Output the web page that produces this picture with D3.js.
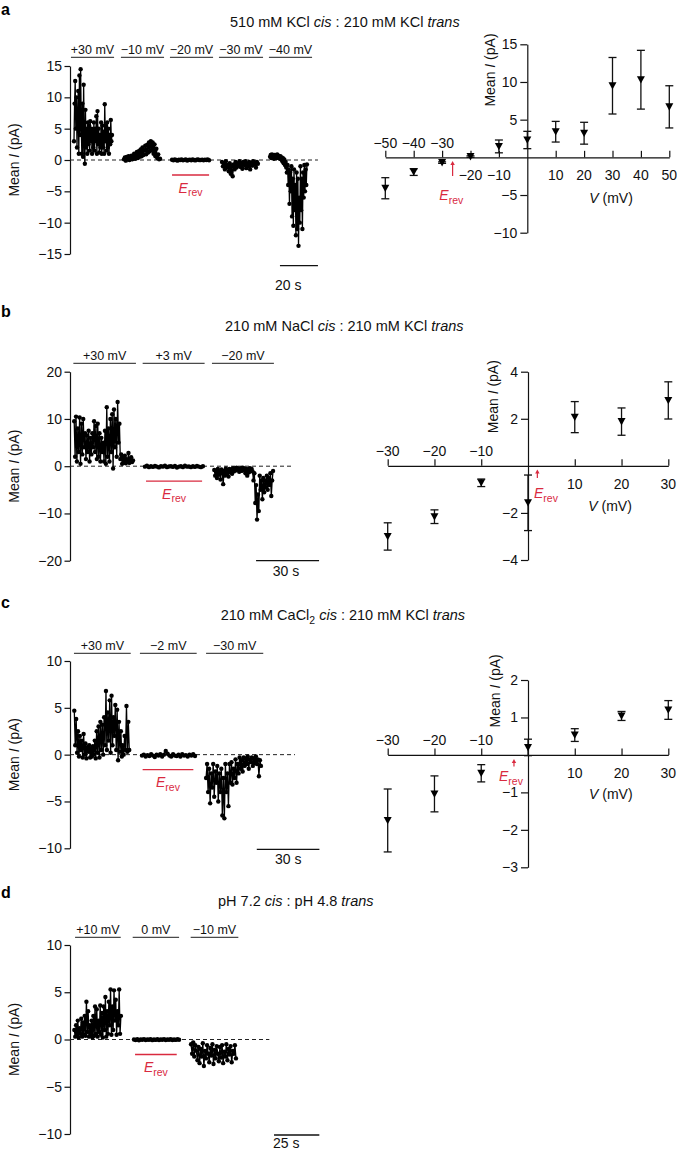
<!DOCTYPE html>
<html><head><meta charset="utf-8">
<script src="https://cdn.jsdelivr.net/npm/d3@7"></script>
<style>
body{margin:0;background:#fff;}
svg{display:block;font-family:"Liberation Sans",Arial,Helvetica,sans-serif;}
</style></head><body>
<svg id="fig" width="677" height="1150"></svg>
<script>
// ================= DATA =================
// ---- Panel a: 510 mM KCl cis : 210 mM KCl trans ----
const aVolts = ["+30 mV","−10 mV","−20 mV","−30 mV","−40 mV"];
const aSegStart = [2.1, 28.4, 53.7, 80.0, 105.3];   // s
const aSegEnd   = [22.1, 47.4, 73.2, 98.9, 124.7];
const aBarStart = [0.5, 26.8, 52.6, 78.4, 104.7];
const aBarEnd   = [23.2, 49.5, 75.3, 101.6, 127.4];
const aErevT = [53.7, 73.2];
const aZeroEnd = 130.5;
const aScaleT = [110.5, 20];
const aYTicks = [15,10,5,0,-5,-10,-15];
const aT1 = [3,9,12.6,5,10,2,7,11,1,13.5,4,14.5,6,1,9,0.5,12,3,-0.6,8,2,5,1,6,2.5,5.5,1.5,6.2,3,5,1,4.5,2,6,1.5,5,3,7,1,7.8,2.5,5,1.2,4,2,6,1,5.5,2,4.5,1,8.9,3,5.5,1.5,6,2,5,1,4,2.5,6.4,3,4];
const aT2 = [0.1,0.4,-0.1,0.5,0.1,0.6,0,0.4,0.7,0.1,0.5,1.0,0.2,0.8,1.3,0.3,1.4,0.5,1.7,0.6,2.0,0.8,1.5,2.3,0.9,2.4,1.2,2.8,1.4,3.0,1.6,2.8,1.0,2.5,0.6,1.8,0.3,0.9,0.1,0.2];
const aT3 = [0.05,-0.05,0.1,0,-0.1,0.05,0,0.08,-0.05,0.02,0.1,-0.08,0,0.05,-0.03,0.07,0,-0.06,0.04,0.1,-0.02,0,0.06,-0.05,0.03,0,0.08,-0.04];
const aT4 = [-0.3,-1,-0.5,-1.5,-0.2,-1.2,-0.8,-1.8,-0.5,-2.2,-1,-2.6,-0.7,-1.5,-0.3,-1.2,-0.6,-0.9,-0.2,-1.1,-0.5,-1.4,-0.3,-0.8,-0.2,-1.3,-0.6,-1.0,-0.3,-1.5,-0.5,-0.9,-0.2,-0.7,-0.4,-1.2,-0.3,-0.6];
const aT5 = [0.5,0.8,0.3,0.9,0.4,0.7,0.2,0.8,0.5,0.6,0.3,0.9,0.4,0.7,0.5,0.2,0.6,0.1,0.4,-0.2,0.3,-0.5,0.1,-0.8,-0.3,-1.2,-2,-0.8,-4,-1.5,-7,-2,-5,-1,-9,-3,-10.5,-1.5,-8,-4,-12,-2,-11,-3,-13.7,-6,-10,-1,-8,-3,-11,-2,-6,-0.8,-5,-1.5,-4,-0.7];
// IV a
const aV   = [-50,-40,-30,-20,-10,0,10,20,30,40,50];
const aI   = [-4.1,-1.95,-0.7,0.1,1.45,2.3,3.4,3.2,9.5,10.3,6.7];
const aErr = [1.4,0.45,0.1,0.1,0.85,1.15,1.37,1.45,3.75,3.9,2.8];
const aXTicks = [-50,-40,-30,-20,-10,10,20,30,40,50];
const aXAbove = [-50,-40,-30];
const aIVYTicks = [15,10,5,-5,-10];
const aErevV = -26.3;

// ---- Panel b: 210 mM NaCl cis : 210 mM KCl trans ----
const bVolts = ["+30 mV","+3 mV","−20 mV"];
const bSegStart = [2.0, 35.7, 68.7];
const bSegEnd   = [30.0, 63.3, 96.7];
const bBarStart = [1.6, 34.6, 67.6];
const bBarEnd   = [31.4, 64.1, 97.1];
const bErevT = [36.2, 62.9];
const bZeroEnd = 106.2;
const bScaleT = [88.6, 30];
const bYTicks = [20,10,0,-10,-20];
const bT1 = [9.5,2,10.5,1,8,3,10.3,0.5,9,2.5,10,4,7,1.5,6.5,3,7.5,1,6,2.5,7,4,9.5,3,8.5,1.5,9,2,7,1,6,3,5,1,7.5,0.5,12.5,2,8,1,10,3,11,-0.5,12,4,10,2,13.6,5,9,1.5,2.5,0.5,1.8,0.8,2.2,0.6,1.5,1,2.8,0.7,1.3,1.9,0.9,1.2];
const bT2 = [-0.1,0.1,-0.2,0,-0.15,0.05,-0.1,-0.25,0,-0.1,0.1,-0.2,-0.05,0,-0.15,0.05,-0.3,-0.1,0,-0.2,0.1,-0.1,-0.05,-0.2,0,-0.15,0.05,-0.1,-0.2,0];
const bT3 = [-0.8,-2,-1,-2.5,-0.6,-1.8,-1.2,-2.8,-0.7,-1.5,-3.8,-1,-2,-0.5,-1.5,-1,-2.2,-0.6,-1.3,-0.8,-1.6,-0.4,-1.1,-0.5,-0.9,-0.3,-0.7,-0.5,-1.2,-0.6,-0.4,-1,-0.3,-0.8,-0.5,-1.5,-0.6,-2,-0.7,-1.3,-0.4,-0.9,-0.6,-1.1,-3,-1.5,-7.8,-4,-11.3,-6,-9.5,-2,-5,-3,-7,-2.5,-5.5,-3,-4.5,-2,-5,-2.5,-4,-1.5,-6.3,-3,-1];
// IV b
const bV   = [-30,-20,-10,0,10,20,30];
const bI   = [-3.0,-2.16,-0.72,-1.57,2.07,1.88,2.78];
const bErr = [0.58,0.29,0.16,1.18,0.66,0.58,0.79];
const bXTicks = [-30,-20,-10,10,20,30];
const bXAbove = [-30,-20,-10];
const bIVYTicks = [4,2,-2,-4];
const bErevV = 2.0;

// ---- Panel c: 210 mM CaCl2 cis : 210 mM KCl trans ----
const cVolts = ["+30 mV","−2 mV","−30 mV"];
const cSegStart = [2.06, 34.5, 65.2];
const cSegEnd   = [28.4, 59.9, 91.5];
const cBarStart = [1.9, 33.5, 65.2];
const cBarEnd   = [29.1, 60.7, 92.6];
const cErevT = [34.8, 59.1];
const cZeroEnd = 107.8;
const cScaleT = [89.5, 30];
const cYTicks = [10,5,0,-5,-10];
const cT1 = [4.7,1,3.8,0.2,2.5,-0.2,2,0.5,1.5,-0.3,2.2,0,1.2,-0.4,0.8,0.3,1,-0.3,0.6,-0.2,0.9,0,1.5,-0.4,2.5,0.2,3,-0.3,3.5,0.5,3.2,0,4,1,6.8,0.5,4.5,1.5,5.8,0.2,6.3,1,4,2,5.3,0.5,4.8,-0.6,3.5,0.3,2.5,-0.2,1,0,2,0.5,5.2,0.3,3.5,0.5];
const cT2 = [-0.1,0,-0.2,-0.05,-0.15,0.05,-0.1,-0.25,0,-0.1,0.05,-0.2,0,0.4,0.1,-0.1,-0.2,0.05,-0.1,-0.15,0,-0.2,0.05,-0.1,-0.05,-0.2,0,-0.1,0.05,-0.15];
const cT3 = [-2.5,-1,-4,-1.5,-5.2,-2,-3.5,-1,-4.5,-1.8,-3,-1.2,-5,-2,-4,-1.5,-6.5,-2.5,-6.8,-1,-4,-2,-5.5,-1,-3,-0.8,-3.2,-1.5,-2.5,-0.5,-3,-1,-2,-0.3,-1.5,-0.6,-1.8,-0.3,-1.2,-0.4,-1,-0.2,-1.5,-0.5,-0.8,-0.3,-1.2,-0.4,-0.9,-0.2,-1,-0.5,-2.3,-0.6,-1.2];
// IV c
const cV   = [-30,-20,-10,0,10,20,30];
const cI   = [-1.75,-1.04,-0.49,0.2,0.53,1.04,1.2];
const cErr = [0.84,0.48,0.23,0.22,0.17,0.12,0.25];
const cXTicks = [-30,-20,-10,10,20,30];
const cXAbove = [-30,-20,-10];
const cIVYTicks = [2,1,-1,-2,-3];
const cErevV = -3.0;

// ---- Panel d: pH 7.2 cis : pH 4.8 trans ----
const dVolts = ["+10 mV","0 mV","−10 mV"];
const dSegStart = [2.4, 35.3, 66.8];
const dSegEnd   = [28.1, 60.2, 91.6];
const dBarStart = [2.8, 34.6, 66.6];
const dBarEnd   = [28.0, 60.2, 92.9];
const dErevT = [35.9, 58.9];
const dZeroEnd = 110;
const dScaleT = [112.6, 25];
const dYTicks = [10,5,0,-5,-10];
const dT1 = [1,0.3,1.5,0.5,2,0.2,1.2,0.6,2.2,0.3,1.8,0.5,2.5,0.4,4,0.8,3,0.3,1.5,0.5,2,0.2,2.5,0.4,3.5,0.6,3.2,0.3,2,0.8,3.6,0.5,2.8,0.2,3.5,1,4.5,0.3,3,0.6,4,1.5,5.3,0.5,3.5,1,5.2,2,4.2,0.5,3,1.5,5.3,0.6,2.5];
const dT2 = [0,-0.05,0.02,-0.08,0,-0.03,0.04,-0.06,0,-0.02,0.03,-0.07,0,-0.04,0.02,-0.05,0,-0.03,0.04,-0.06,0,-0.02,0.03,-0.05,0,-0.04,0.02,-0.03];
const dT3 = [-0.5,-1.5,-0.3,-1.8,-0.6,-1.2,-2.2,-0.8,-2.5,-1,-1.8,-0.4,-2.8,-1.2,-2,-0.6,-1.5,-2.4,-0.9,-1.7,-0.5,-2.6,-1.1,-2,-0.7,-1.5,-2.3,-0.8,-1.9,-0.6,-2.5,-1.3,-1.8,-0.5,-2.2,-1,-1.6,-0.7,-2.4,-1.2,-1.5,-0.6,-2];

// ================= DRAWING =================
const svg = d3.select("#fig");
const RED = "#d92a3f";
const fmt = d3.format("d");

function rich(g, x, y, parts, size, anchor) {
  const t = g.append("text").attr("x", x).attr("y", y)
    .attr("text-anchor", anchor || "start").style("font-size", size + "px").attr("fill", "#111");
  let shift = 0;
  parts.forEach(p => {
    const s = t.append("tspan").text(p[0]);
    if (p[1] === "i") { s.style("font-style", "italic"); }
    if (p[1] === "sub") {
      s.style("font-size", (size * 0.72) + "px").attr("dy", 4); shift = 4;
    } else if (shift) { s.attr("dy", -shift); shift = 0; }
  });
  return t;
}

function styleAxis(sel, size) {
  sel.attr("font-family", null).attr("font-size", null);
  sel.selectAll("path,line").attr("stroke", "#111").attr("stroke-width", 1.2);
  sel.selectAll("text").style("font-size", size + "px").attr("fill", "#111");
}

function erevLabel(g, x, y, anchor) {
  const t = g.append("text").attr("x", x).attr("y", y).attr("fill", RED)
    .attr("text-anchor", anchor || "middle").style("font-size", "14px");
  t.append("tspan").text("E").style("font-style", "italic");
  t.append("tspan").text("rev").style("font-size", "10.5px").attr("dy", 3.5);
}

function tracePanel(c) {
  const g = svg.append("g");
  const x = d3.scaleLinear().domain([0, 100]).range([c.x0, c.x0 + 100 * c.pps]);
  const y = d3.scaleLinear().domain(c.yDomain).range(c.yRange);
  g.append("text").attr("x", 1).attr("y", c.letterY).text(c.letter)
    .style("font-size", "16px").style("font-weight", "bold").attr("fill", "#000");
  rich(g, c.titleX, c.titleY, c.title, 14.5);
  const ya = g.append("g").attr("transform", `translate(${c.x0},0)`)
    .call(d3.axisLeft(y).tickValues(c.yTicks).tickSize(5.5).tickPadding(2.5).tickSizeOuter(0).tickFormat(fmt));
  styleAxis(ya, 14);
  const yl = g.append("text").attr("transform", `translate(14,${(c.yRange[0] + c.yRange[1]) / 2}) rotate(-90)`)
    .attr("text-anchor", "middle").attr("dy", "0.35em").style("font-size", "14px").attr("fill", "#111");
  yl.append("tspan").text("Mean ");
  yl.append("tspan").text("I").style("font-style", "italic");
  yl.append("tspan").text(" (pA)");
  g.append("line").attr("x1", x(0)).attr("x2", x(c.zeroEnd)).attr("y1", y(0)).attr("y2", y(0))
    .attr("stroke", "#222").attr("stroke-width", 1).attr("stroke-dasharray", "4,3");
  c.volts.forEach((v, i) => {
    g.append("line").attr("x1", x(c.barStart[i])).attr("x2", x(c.barEnd[i]))
      .attr("y1", c.barY).attr("y2", c.barY).attr("stroke", "#4a4a4a").attr("stroke-width", 1.3);
    g.append("text").attr("x", (x(c.barStart[i]) + x(c.barEnd[i])) / 2).attr("y", c.barY - 3.3)
      .attr("text-anchor", "middle").style("font-size", "12.5px").attr("fill", "#111").text(v);
  });
  const line = d3.line().x(d => x(d[0])).y(d => y(d[1]));
  c.segs.forEach((vals, i) => {
    const t0 = c.segStart[i], t1 = c.segEnd[i];
    const pts = vals.map((v, j) => [t0 + (t1 - t0) * j / (vals.length - 1), v]);
    g.append("path").attr("d", line(pts)).attr("fill", "none").attr("stroke", "#000").attr("stroke-width", 1.3);
    g.selectAll(null).data(pts).enter().append("circle")
      .attr("cx", d => x(d[0])).attr("cy", d => y(d[1])).attr("r", 2.2).attr("fill", "#000");
  });
  const ey = y(0) + 15;
  g.append("line").attr("x1", x(c.erevT[0])).attr("x2", x(c.erevT[1])).attr("y1", ey).attr("y2", ey)
    .attr("stroke", RED).attr("stroke-width", 1.3);
  erevLabel(g, (x(c.erevT[0]) + x(c.erevT[1])) / 2, ey + 17.5, "middle");
  g.append("line").attr("x1", x(c.scaleT[0])).attr("x2", x(c.scaleT[0] + c.scaleT[1]))
    .attr("y1", c.scaleY).attr("y2", c.scaleY).attr("stroke", "#111").attr("stroke-width", 1.3);
  g.append("text").attr("x", c.scaleTextX).attr("y", c.scaleTextY).style("font-size", "14px")
    .attr("fill", "#111").text(c.scaleT[1] + " s");
}

function ivPanel(c) {
  const g = svg.append("g");
  const x = d3.scaleLinear().domain(c.xDomain).range(c.xRange);
  const y = d3.scaleLinear().domain(c.yDomain).range(c.yRange);
  const x0 = x(0), y0 = y(0);
  const xa = g.append("g").attr("transform", `translate(0,${y0})`)
    .call(d3.axisTop(x).tickValues(c.xTicks).tickSize(6.5).tickSizeOuter(0).tickFormat(""));
  styleAxis(xa, 14);
  c.xTicks.forEach(v => {
    const above = c.xAbove.includes(v);
    g.append("text").attr("x", x(v)).attr("y", above ? y0 - 9.5 : y0 + 23)
      .attr("text-anchor", "middle").style("font-size", "14px").attr("fill", "#111").text(fmt(v));
  });
  const ya = g.append("g").attr("transform", `translate(${x0},0)`)
    .call(d3.axisLeft(y).tickValues(c.yTicks).tickSize(7).tickPadding(3).tickSizeOuter(0).tickFormat(fmt));
  styleAxis(ya, 14);
  const yl = g.append("text").attr("transform", `translate(${c.ylabX},${c.ylabY}) rotate(-90)`)
    .attr("text-anchor", "middle").attr("dy", "0.35em").style("font-size", "14px").attr("fill", "#111");
  yl.append("tspan").text("Mean ");
  yl.append("tspan").text("I").style("font-style", "italic");
  yl.append("tspan").text(" (pA)");
  const vl = g.append("text").attr("x", c.vlabX).attr("y", c.vlabY).style("font-size", "14px").attr("fill", "#111");
  vl.append("tspan").text("V").style("font-style", "italic");
  vl.append("tspan").text(" (mV)");
  c.V.forEach((v, i) => {
    const cx = x(v), ya1 = y(c.I[i] + c.err[i]), ya2 = y(c.I[i] - c.err[i]);
    g.append("line").attr("x1", cx).attr("x2", cx).attr("y1", ya1).attr("y2", ya2).attr("stroke", "#111").attr("stroke-width", 1.3);
    [ya1, ya2].forEach(yy => g.append("line").attr("x1", cx - 4).attr("x2", cx + 4).attr("y1", yy).attr("y2", yy)
      .attr("stroke", "#111").attr("stroke-width", 1.3));
  });
  g.selectAll(null).data(c.V.map((v, i) => [v, c.I[i]])).enter().append("path")
    .attr("transform", d => `translate(${x(d[0])},${y(d[1])})`)
    .attr("d", "M-4,-3.5L4,-3.5L0,3.8Z").attr("fill", "#000");
  const ax = x(c.erevV);
  g.append("line").attr("x1", ax).attr("x2", ax).attr("y1", c.arrowY[0]).attr("y2", c.arrowY[1] + 3)
    .attr("stroke", RED).attr("stroke-width", 1.2);
  g.append("path").attr("d", `M${ax - 2.2},${c.arrowY[1] + 4}L${ax + 2.2},${c.arrowY[1] + 4}L${ax},${c.arrowY[1]}Z`).attr("fill", RED);
  erevLabel(g, c.erevTextX, c.erevTextY, "start");
}

// ---- Left trace panels ----
tracePanel({letter:"a", letterY:15, titleX:230, titleY:27.3,
  title:[["510 mM KCl ","n"],["cis","i"],[" : 210 mM KCl ","n"],["trans","i"]],
  x0:70, pps:1.9, yDomain:[-15,15], yRange:[254,66], yTicks:aYTicks,
  segs:[aT1,aT2,aT3,aT4,aT5], segStart:aSegStart, segEnd:aSegEnd,
  volts:aVolts, barStart:aBarStart, barEnd:aBarEnd, barY:57.3,
  erevT:aErevT, zeroEnd:aZeroEnd, scaleT:aScaleT, scaleY:265.7, scaleTextX:275, scaleTextY:290});
tracePanel({letter:"b", letterY:317, titleX:225, titleY:331,
  title:[["210 mM NaCl ","n"],["cis","i"],[" : 210 mM KCl ","n"],["trans","i"]],
  x0:70, pps:2.1, yDomain:[-20,20], yRange:[560.7,371.7], yTicks:bYTicks,
  segs:[bT1,bT2,bT3], segStart:bSegStart, segEnd:bSegEnd,
  volts:bVolts, barStart:bBarStart, barEnd:bBarEnd, barY:363.3,
  erevT:bErevT, zeroEnd:bZeroEnd, scaleT:bScaleT, scaleY:560.7, scaleTextX:272.7, scaleTextY:576});
tracePanel({letter:"c", letterY:608, titleX:220.7, titleY:619.5,
  title:[["210 mM CaCl","n"],["2","sub"],[" ","n"],["cis","i"],[" : 210 mM KCl ","n"],["trans","i"]],
  x0:70, pps:2.087, yDomain:[-10,10], yRange:[848.3,661], yTicks:cYTicks,
  segs:[cT1,cT2,cT3], segStart:cSegStart, segEnd:cSegEnd,
  volts:cVolts, barStart:cBarStart, barEnd:cBarEnd, barY:653.3,
  erevT:cErevT, zeroEnd:cZeroEnd, scaleT:cScaleT, scaleY:849.3, scaleTextX:275, scaleTextY:864});
tracePanel({letter:"d", letterY:898, titleX:218, titleY:906,
  title:[["pH 7.2 ","n"],["cis","i"],[" : pH 4.8 ","n"],["trans","i"]],
  x0:70, pps:1.812, yDomain:[-10,10], yRange:[1134,945], yTicks:dYTicks,
  segs:[dT1,dT2,dT3], segStart:dSegStart, segEnd:dSegEnd,
  volts:dVolts, barStart:dBarStart, barEnd:dBarEnd, barY:937.3,
  erevT:dErevT, zeroEnd:dZeroEnd, scaleT:dScaleT, scaleY:1135, scaleTextX:273, scaleTextY:1148});

// ---- Right I–V panels ----
ivPanel({xDomain:[-50,50], xRange:[385.3,669.3], yDomain:[-10,15], yRange:[232.7,44.3],
  xTicks:aXTicks, xAbove:aXAbove, yTicks:aIVYTicks, V:aV, I:aI, err:aErr,
  ylabX:490, ylabY:70, vlabX:589.3, vlabY:202.5, erevV:aErevV, arrowY:[176,161],
  erevTextX:439.3, erevTextY:200});
ivPanel({xDomain:[-30,30], xRange:[387.7,668.3], yDomain:[-4,4], yRange:[560,371.7],
  xTicks:bXTicks, xAbove:bXAbove, yTicks:bIVYTicks, V:bV, I:bI, err:bErr,
  ylabX:493, ylabY:396.7, vlabX:588.3, vlabY:511, erevV:bErevV, arrowY:[478,469.5],
  erevTextX:534, erevTextY:498.3});
ivPanel({xDomain:[-30,30], xRange:[387.7,668.3], yDomain:[-3,2], yRange:[867.3,680],
  xTicks:cXTicks, xAbove:cXAbove, yTicks:cIVYTicks, V:cV, I:cI, err:cErr,
  ylabX:495, ylabY:690.8, vlabX:589, vlabY:799, erevV:cErevV, arrowY:[766.5,759],
  erevTextX:499, erevTextY:781});
</script>
</body></html>
